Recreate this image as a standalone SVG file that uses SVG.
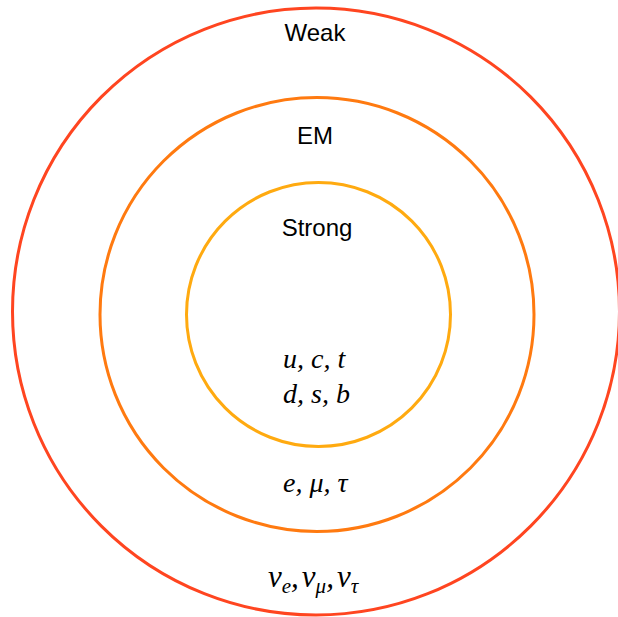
<svg xmlns="http://www.w3.org/2000/svg" width="618" height="617" viewBox="0 0 618 617">
<style>
.ring{fill:none;stroke-width:3}
.lbl{font-family:"Liberation Sans",Arial,Helvetica,sans-serif;font-size:24px;fill:#000;text-anchor:middle}
.math{font-family:"Liberation Serif","Times New Roman",serif;font-style:italic;font-size:28px;fill:#000}
.nu{font-size:31px}
.sub{font-size:21px}
</style>
<rect width="618" height="617" fill="#fff"/>
<g id="weak">
<circle class="ring" cx="316" cy="311.5" r="303.5" stroke="#FF4520"/>
<text class="lbl" x="315" y="41">Weak</text>
<text class="math nu" x="268" y="587">ν<tspan class="sub" dy="6">e</tspan><tspan dy="-6">,</tspan><tspan dx="3">ν</tspan><tspan class="sub" dy="6">μ</tspan><tspan dy="-6">,</tspan><tspan dx="3">ν</tspan><tspan class="sub" dy="6">τ</tspan></text>
</g>
<g id="em">
<circle class="ring" cx="317" cy="314.5" r="217" stroke="#FF7A10"/>
<text class="lbl" x="315" y="144">EM</text>
<text class="math" x="283" y="492">e, μ, τ</text>
</g>
<g id="strong">
<circle class="ring" cx="318.5" cy="314.5" r="132" stroke="#FFAA10"/>
<text class="lbl" x="317" y="236">Strong</text>
<text class="math" x="283" y="368">u, c, t</text>
<text class="math" x="283" y="403">d, s, b</text>
</g>
</svg>
